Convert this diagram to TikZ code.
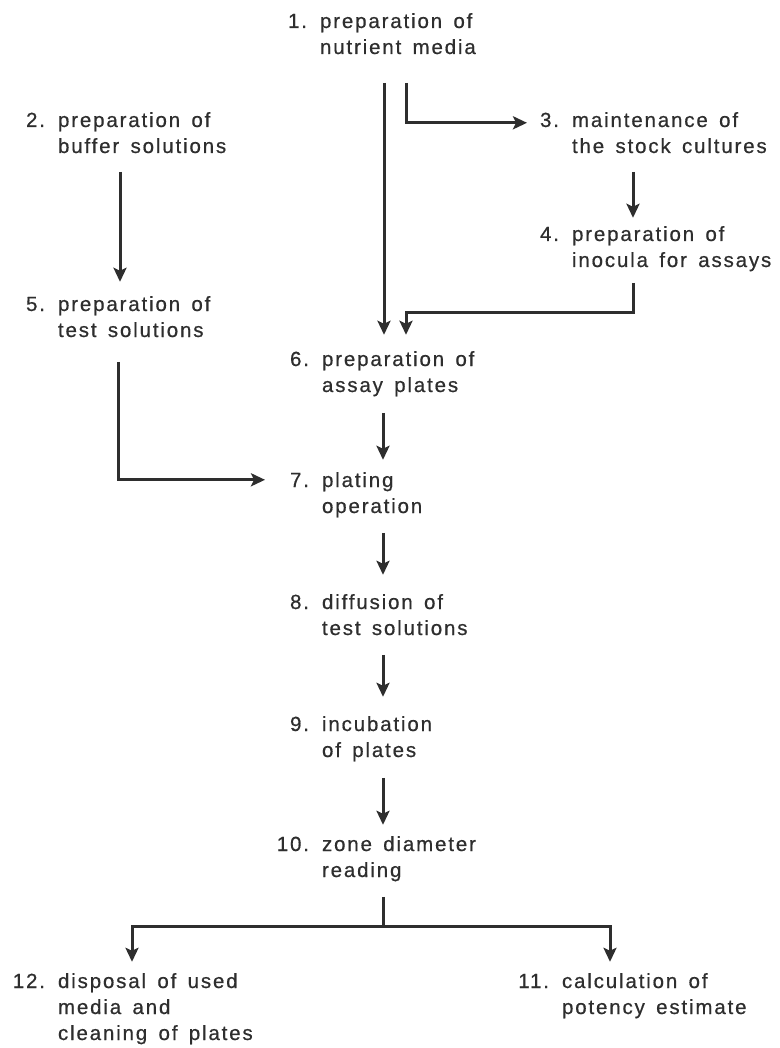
\documentclass[tikz,border=0pt]{standalone}
\usepackage{fontspec}
\setmainfont{Liberation Sans}[LetterSpace=9,WordSpace=1.5,FakeBold=0.6]
\usetikzlibrary{arrows.meta,calc}
\definecolor{ink}{HTML}{2E2E2E}
\newcommand{\itm}[2]{\begin{tabular}[t]{@{}l@{}}\llap{#1\hspace{13pt}}#2\end{tabular}}
\tikzset{
  lbl/.style={inner sep=0pt, outer sep=0pt, text=ink, anchor=base west,
    font=\fontsize{20.5}{26}\selectfont},
  conn/.style={draw=ink, line width=3pt},
  arr/.style={conn, -{Stealth[length=14pt,width=13pt,inset=3pt]}}
}
\begin{document}
\begin{tikzpicture}[x=1pt,y=1pt]
\useasboundingbox (0,0) rectangle (779,-1048);
\fill[white] (0,0) rectangle (779,-1048);

\node[lbl] (n1) at (320,-28) {\itm{1.}{preparation of\\ nutrient media}};
\node[lbl] (n2) at (58,-127) {\itm{2.}{preparation of\\ buffer solutions}};
\node[lbl] (n3) at (572,-127) {\itm{3.}{maintenance of\\ the stock cultures}};
\node[lbl] (n4) at (572,-241) {\itm{4.}{preparation of\\ inocula for assays}};
\node[lbl] (n5) at (58,-311) {\itm{5.}{preparation of\\ test solutions}};
\node[lbl] (n6) at (322,-366) {\itm{6.}{preparation of\\ assay plates}};
\node[lbl] (n7) at (322,-487) {\itm{7.}{plating\\ operation}};
\node[lbl] (n8) at (322,-609) {\itm{8.}{diffusion of\\ test solutions}};
\node[lbl] (n9) at (322,-731) {\itm{9.}{incubation\\ of plates}};
\node[lbl] (n10) at (322,-851) {\itm{10.}{zone diameter\\ reading}};
\node[lbl] (n11) at (562,-988) {\itm{11.}{calculation of\\ potency estimate}};
\node[lbl] (n12) at (58,-988) {\itm{12.}{disposal of used\\ media and\\ cleaning of plates}};

% 1 -> 6
\draw[arr] ($(n1.south west)+(64,-21)$) -- ($(n6.north west)+(62,13)$);
% 1 -> 3
\draw[arr] ($(n1.south west)+(86,-21)$) |- ($(n3.west)+(-45,12)$);
% 2 -> 5
\draw[arr] ($(n2.south west)+(62,-11)$) -- ($(n5.north west)+(62,11)$);
% 3 -> 4
\draw[arr] ($(n3.south west)+(61,-11)$) -- ($(n4.north west)+(61,5)$);
% 4 -> 6
\draw[arr] ($(n4.south west)+(61,-8)$) -- ++(0,-30) -| ($(n6.north west)+(84,13)$);
% 5 -> 7
\draw[arr] ($(n5.south west)+(60,-17)$) |- ($(n7.west)+(-57,15)$);
% 6 -> 7
\draw[arr] ($(n6.south west)+(61,-13)$) -- ($(n7.north west)+(61,9)$);
% 7 -> 8
\draw[arr] ($(n7.south west)+(61,-12)$) -- ($(n8.north west)+(61,16)$);
% 8 -> 9
\draw[arr] ($(n8.south west)+(61,-12)$) -- ($(n9.north west)+(61,16)$);
% 9 -> 10
\draw[arr] ($(n9.south west)+(61,-13)$) -- ($(n10.north west)+(61,8)$);
% 10 -> 11, 12
\draw[conn] ($(n10.south west)+(61,-12)$) -- ++(0,-30) coordinate (split);
\draw[arr] (split) -| ($(n12.north west)+(74,8)$);
\draw[arr] (split) -| ($(n11.north west)+(48,8)$);
\end{tikzpicture}
\end{document}
